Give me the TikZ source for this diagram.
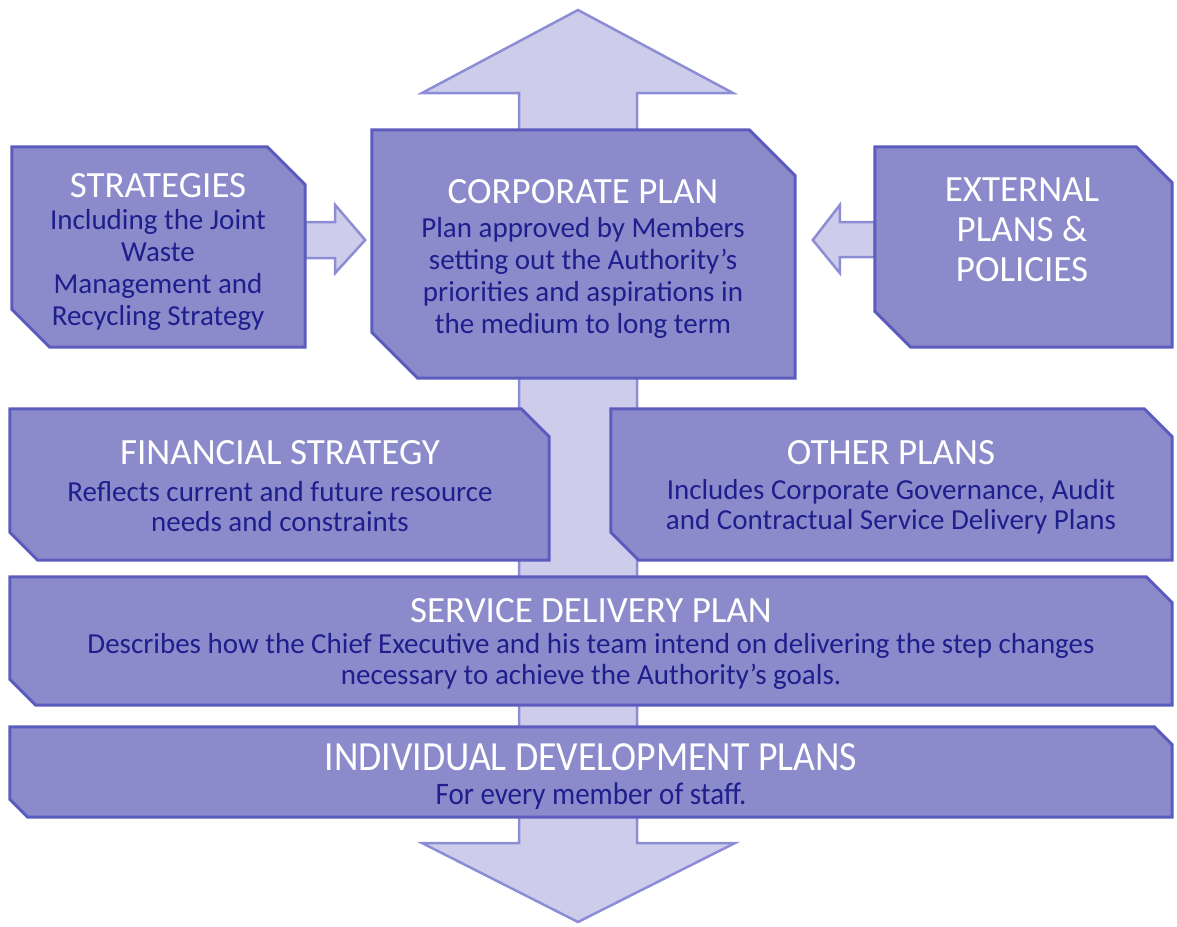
\documentclass[tikz,border=0pt]{standalone}
\usepackage{fontspec}
\setmainfont{Carlito}
\usetikzlibrary{calc}
\pgfdeclarelayer{back}
\pgfdeclarelayer{mid}
\pgfsetlayers{back,mid,main}
\definecolor{boxfill}{HTML}{8B8BCB}
\definecolor{boxline}{HTML}{5C5CBF}
\definecolor{arrfill}{HTML}{CDCDEB}
\definecolor{arrline}{HTML}{8D8DD5}
\definecolor{bodytext}{HTML}{1E1E8C}
\newcommand\snipframe[2]{%
  \begin{pgfonlayer}{mid}
  \draw[frameline] (#1.north west) -- ([xshift=-#2pt]#1.north east) -- ([yshift=-#2pt]#1.north east) -- (#1.south east) -- ([xshift=#2pt]#1.south west) -- ([yshift=#2pt]#1.south west) -- cycle;
  \end{pgfonlayer}}
\tikzset{
  x=1pt, y=-1pt,
  framebox/.style={draw=none, inner sep=0pt, rectangle},
  frameline/.style={fill=boxfill, draw=boxline, line width=3pt, line join=miter},
  arrowshape/.style={fill=arrfill, draw=arrline, line width=2.5pt, line join=miter},
  titletext/.style={text=white, font=\fontsize{37}{40}\selectfont, align=center, inner sep=0pt},
  bodytext/.style={text=bodytext, font=\fontsize{29}{32}\selectfont, align=center, inner sep=0pt},
}
\begin{document}
\begin{tikzpicture}
\useasboundingbox (0,0) rectangle (1177,926);

% frames
\node[framebox, minimum width=293pt, minimum height=200pt] (strat) at (158.5,247) {};
\node[framebox, minimum width=423pt, minimum height=248pt] (corp) at (583.5,254) {};
\node[framebox, minimum width=297pt, minimum height=200pt] (ext) at (1023.5,247) {};
\node[framebox, minimum width=539pt, minimum height=151pt] (fin) at (279.5,484.5) {};
\node[framebox, minimum width=561pt, minimum height=151pt] (other) at (891.5,484.5) {};
\node[framebox, minimum width=1162pt, minimum height=128pt] (serv) at (591,641) {};
\node[framebox, minimum width=1162pt, minimum height=90pt] (indiv) at (591,772) {};

% big double arrow behind
\begin{pgfonlayer}{back}
\draw[arrowshape] (578,10) -- (733,93) -- (637,93) -- (637,843) -- (735,843) -- (578,922)
  -- (422,843) -- (519,843) -- (519,93) -- (422,93) -- cycle;
% small arrows
\draw[arrowshape] ($(strat.east)+(0,-25)$) -- ++(30,0) -- ++(0,-17) -- ++(30,35) -- ++(-30,33) -- ++(0,-15) -- ++(-30,0) -- cycle;
\draw[arrowshape] ($(ext.west)+(0,-25)$) -- ++(-35,0) -- ++(0,-17) -- ++(-27,35) -- ++(27,33) -- ++(0,-16) -- ++(35,0) -- cycle;
\end{pgfonlayer}

\snipframe{strat}{38}
\snipframe{corp}{46}
\snipframe{ext}{36}
\snipframe{fin}{28}
\snipframe{other}{28}
\snipframe{serv}{26}
\snipframe{indiv}{18}

% texts
\node[titletext] (strat-t) at (158,186) {STRATEGIES};
\node[bodytext] (strat-b) at (158,270) {Including the Joint\\Waste\\Management and\\Recycling Strategy};

\node[titletext] (corp-t) at (583,192) {CORPORATE PLAN};
\node[bodytext] (corp-b) at (583,278) {Plan approved by Members\\setting out the Authority’s\\priorities and aspirations in\\the medium to long term};

\node[titletext] (ext-t) at (1022,230) {EXTERNAL\\PLANS \&\\POLICIES};

\node[titletext] (fin-t) at (280,453) {FINANCIAL STRATEGY};
\node[bodytext, font=\fontsize{29}{30}\selectfont] (fin-b) at (280,507) {Reflects current and future resource\\needs and constraints};

\node[titletext] (other-t) at (891,453) {OTHER PLANS};
\node[bodytext, font=\fontsize{29}{30}\selectfont] (other-b) at (891,507) {Includes Corporate Governance, Audit\\and Contractual Service Delivery Plans};

\node[titletext] (serv-t) at (591,611) {SERVICE DELIVERY PLAN};
\node[bodytext, font=\fontsize{29}{31}\selectfont] (serv-b) at (591,661) {Describes how the Chief Executive and his team intend on delivering the step changes\\necessary to achieve the Authority’s goals.};

\node[titletext] (indiv-t) at (591,757) {\scalebox{1.02}[1.12]{INDIVIDUAL DEVELOPMENT PLANS}};
\node[bodytext] (indiv-b) at (591,796) {\scalebox{1}[1.08]{For every member of staff.}};
\end{tikzpicture}
\end{document}
